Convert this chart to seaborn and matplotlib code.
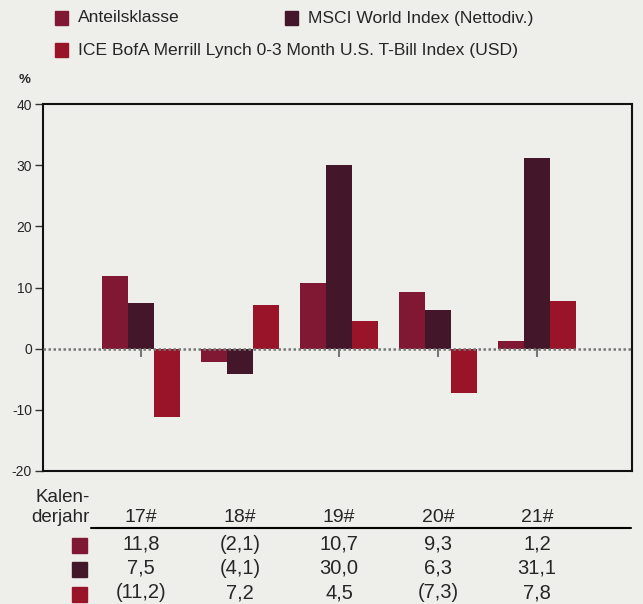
import matplotlib
matplotlib.use("Agg")
import matplotlib.pyplot as plt
from matplotlib.patches import Rectangle
import numpy as np
import pandas as pd
import seaborn as sns

YEARS = ["17#", "18#", "19#", "20#", "21#"]
SERIES = [
    "Anteilsklasse",
    "MSCI World Index (Nettodiv.)",
    "ICE BofA Merrill Lynch 0-3 Month U.S. T-Bill Index (USD)",
]
ANTEILSKLASSE = [11.8, -2.1, 10.7, 9.3, 1.2]
MSCI_WORLD = [7.5, -4.1, 30.0, 6.3, 31.1]
ICE_TBILL = [-11.2, 7.2, 4.5, -7.3, 7.8]
Y_TICKS = [-20, -10, 0, 10, 20, 30, 40]
COLORS = ["#801834", "#43162A", "#991428"]
BG = "#EEEEEA"


def fmt(v):
    s = f"{abs(v):.1f}".replace(".", ",")
    return f"({s})" if v < 0 else s


sns.set_theme(style="white")
plt.rcParams["font.family"] = ["Liberation Sans", "DejaVu Sans"]

df = pd.DataFrame({
    "year": YEARS * 3,
    "series": [SERIES[0]] * 5 + [SERIES[1]] * 5 + [SERIES[2]] * 5,
    "value": ANTEILSKLASSE + MSCI_WORLD + ICE_TBILL,
})

W, H = 643, 604
fig = plt.figure(figsize=(W / 100, H / 100), dpi=100, facecolor=BG)
ax = fig.add_axes([43 / W, 1 - 471 / H, (632 - 43) / W, (471 - 104) / H])
ax.set_facecolor(BG)

sns.barplot(data=df, x="year", y="value", hue="series", hue_order=SERIES,
            palette=COLORS, width=0.79, saturation=1, ax=ax, legend=False,
            errorbar=None, linewidth=0, zorder=2)

ax.set_xlim(-0.99, 4.96)
ax.set_ylim(-20, 40)
ax.set_yticks(Y_TICKS)
ax.set_yticklabels([str(t) for t in Y_TICKS], fontsize=10)
ax.set_xticks([])
ax.set_xlabel("")
ax.set_ylabel("")
ax.tick_params(axis="y", direction="out", length=6, width=1, color="#333333",
               left=True, pad=2)
for sp in ax.spines.values():
    sp.set_linewidth(1.5)
    sp.set_color("#111111")

# dotted zero line with small ticks at category centres
ax.axhline(0, color="#777777", lw=1.8, ls=(0, (1, 1)), zorder=3)
ax.vlines(np.arange(len(YEARS)), -1.3, 0, color="#777777", lw=1.5, zorder=1)

fig.text(19 / W, 1 - 80 / H, "%", fontsize=9.5, fontweight="bold",
         ha="left", va="center")

# legend
leg_pos = [(55, 18), (285, 18), (55, 50)]
for (lx, ly), name, c in zip(leg_pos, SERIES, COLORS):
    fig.patches.append(Rectangle(((lx) / W, 1 - (ly + 7) / H), 13 / W, 14 / H,
                                 transform=fig.transFigure, color=c))
    fig.text((lx + 23) / W, 1 - ly / H, name, fontsize=12.6, ha="left",
             va="center")

# table below
fig.text(90 / W, 1 - 498 / H, "Kalen-", fontsize=13.5, ha="right", va="center")
fig.text(90 / W, 1 - 518 / H, "derjahr", fontsize=13.5, ha="right", va="center")
col_x = [ax.transData.transform((i, 0))[0] / W for i in range(len(YEARS))]
for x, y in zip(col_x, YEARS):
    fig.text(x, 1 - 517 / H, y, fontsize=14, ha="center", va="center")
fig.add_artist(plt.Line2D([91 / W, 631 / W], [1 - 528 / H, 1 - 528 / H],
                          color="black", lw=1.5, transform=fig.transFigure))

rows = [ANTEILSKLASSE, MSCI_WORLD, ICE_TBILL]
row_y = [544, 568, 593]
for vals, ry, c in zip(rows, row_y, COLORS):
    fig.patches.append(Rectangle((72 / W, 1 - (ry + 9) / H), 15 / W, 15 / H,
                                 transform=fig.transFigure, color=c))
    for x, v in zip(col_x, vals):
        fig.text(x, 1 - ry / H, fmt(v), fontsize=14.5, ha="center", va="center")

fig.savefig("out.png", dpi=100, facecolor=BG)
